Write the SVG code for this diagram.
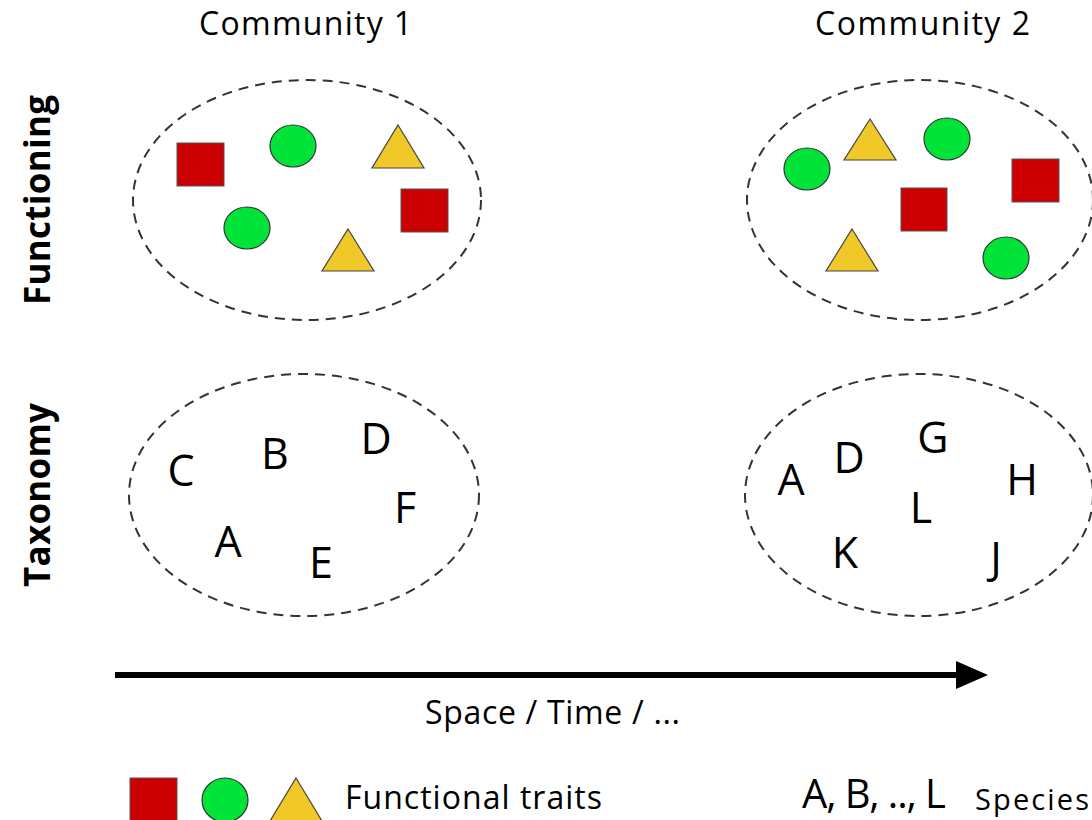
<svg xmlns="http://www.w3.org/2000/svg" width="1092" height="820" viewBox="0 0 1092 820">
  <defs>
    <style>
      .bg { fill: #ffffff; }
      .group { fill: none; stroke: #333333; stroke-width: 2; stroke-dasharray: 10 7; }
      .sq { fill: #cc0000; stroke: #555555; stroke-width: 1; }
      .ci { fill: #00e43a; stroke: #333333; stroke-width: 1.2; }
      .tr { fill: #f0c929; stroke: #444444; stroke-width: 1.2; }
      .title { font-family: "Open Sans", "Liberation Sans", sans-serif; font-size: 32px; fill: #000; text-anchor: middle; }
      .axis { font-family: "Open Sans", "Liberation Sans", sans-serif; font-size: 35px; font-weight: bold; fill: #000; text-anchor: middle; }
      .sp { font-family: "Open Sans", "Liberation Sans", sans-serif; font-size: 43px; fill: #000; text-anchor: middle; }
      .lab { font-family: "Open Sans", "Liberation Sans", sans-serif; font-size: 32px; fill: #000; }
    </style>
    <marker id="arrowhead" viewBox="0 0 32 28" refX="0" refY="14" markerWidth="32" markerHeight="28" markerUnits="userSpaceOnUse" orient="auto">
      <polygon points="0,0 32,14 0,28" fill="#000"/>
    </marker>
  </defs>

  <rect class="bg" x="0" y="0" width="1092" height="820"/>

  <!-- column headings -->
  <g id="heading-community-1">
    <text class="title" x="305.5" y="35" textLength="213" lengthAdjust="spacing">Community 1</text>
  </g>
  <g id="heading-community-2">
    <text class="title" x="922.5" y="35" textLength="215" lengthAdjust="spacing">Community 2</text>
  </g>

  <!-- row headings -->
  <g id="row-functioning">
    <text class="axis" transform="translate(50 200) rotate(-90)" textLength="210" lengthAdjust="spacing">Functioning</text>
  </g>
  <g id="row-taxonomy">
    <text class="axis" transform="translate(50 495) rotate(-90)" textLength="184" lengthAdjust="spacing">Taxonomy</text>
  </g>

  <!-- community 1, functional traits -->
  <g id="c1-functioning">
    <ellipse class="group" cx="307" cy="200" rx="174" ry="120"/>
    <rect class="sq" x="177" y="143" width="47" height="43"/>
    <ellipse class="ci" cx="293" cy="146" rx="23" ry="21"/>
    <polygon class="tr" points="398,125 424,168 372,168"/>
    <rect class="sq" x="401" y="189" width="47" height="43"/>
    <ellipse class="ci" cx="247" cy="228" rx="23" ry="21"/>
    <polygon class="tr" points="348,229 374,271 322,271"/>
  </g>

  <!-- community 2, functional traits -->
  <g id="c2-functioning">
    <ellipse class="group" cx="920" cy="200" rx="173" ry="120"/>
    <ellipse class="ci" cx="807" cy="169" rx="23" ry="21"/>
    <polygon class="tr" points="870,119 896,160 844,160"/>
    <ellipse class="ci" cx="947" cy="139" rx="23" ry="21"/>
    <rect class="sq" x="1012" y="159" width="47" height="43"/>
    <rect class="sq" x="901" y="188" width="46" height="43"/>
    <polygon class="tr" points="852,229 878,271 826,271"/>
    <ellipse class="ci" cx="1006" cy="258" rx="23" ry="21"/>
  </g>

  <!-- community 1, species -->
  <g id="c1-taxonomy">
    <ellipse class="group" cx="304" cy="495" rx="175" ry="121"/>
    <text class="sp" x="181" y="486">C</text>
    <text class="sp" x="275" y="469">B</text>
    <text class="sp" x="376" y="454">D</text>
    <text class="sp" x="405" y="523">F</text>
    <text class="sp" x="228" y="557">A</text>
    <text class="sp" x="321" y="578">E</text>
  </g>

  <!-- community 2, species -->
  <g id="c2-taxonomy">
    <ellipse class="group" cx="919" cy="495" rx="174" ry="121"/>
    <text class="sp" x="791" y="495">A</text>
    <text class="sp" x="849" y="473">D</text>
    <text class="sp" x="933" y="453">G</text>
    <text class="sp" x="1022" y="495">H</text>
    <text class="sp" x="921" y="523">L</text>
    <text class="sp" x="845" y="568">K</text>
    <text class="sp" x="996" y="573">J</text>
  </g>

  <!-- gradient axis -->
  <g id="connectors">
    <line x1="115" y1="675" x2="956" y2="675" stroke="#000" stroke-width="6" marker-end="url(#arrowhead)"/>
  </g>
  <g id="axis-label">
    <text class="lab" x="425" y="724" textLength="255" lengthAdjust="spacing">Space / Time / ...</text>
  </g>

  <!-- legend -->
  <g id="legend-traits">
    <rect class="sq" x="130" y="778" width="47" height="45"/>
    <ellipse class="ci" cx="225" cy="800" rx="23" ry="22"/>
    <polygon class="tr" points="296,778 322,821 270,821"/>
    <text class="lab" x="345" y="809" textLength="257" lengthAdjust="spacing">Functional traits</text>
  </g>
  <g id="legend-species">
    <text class="lab" x="802" y="808" style="font-size:40px" textLength="144" lengthAdjust="spacing">A, B, .., L</text>
    <text class="lab" x="975" y="810" style="font-size:29px" textLength="114" lengthAdjust="spacing">Species</text>
  </g>
</svg>
